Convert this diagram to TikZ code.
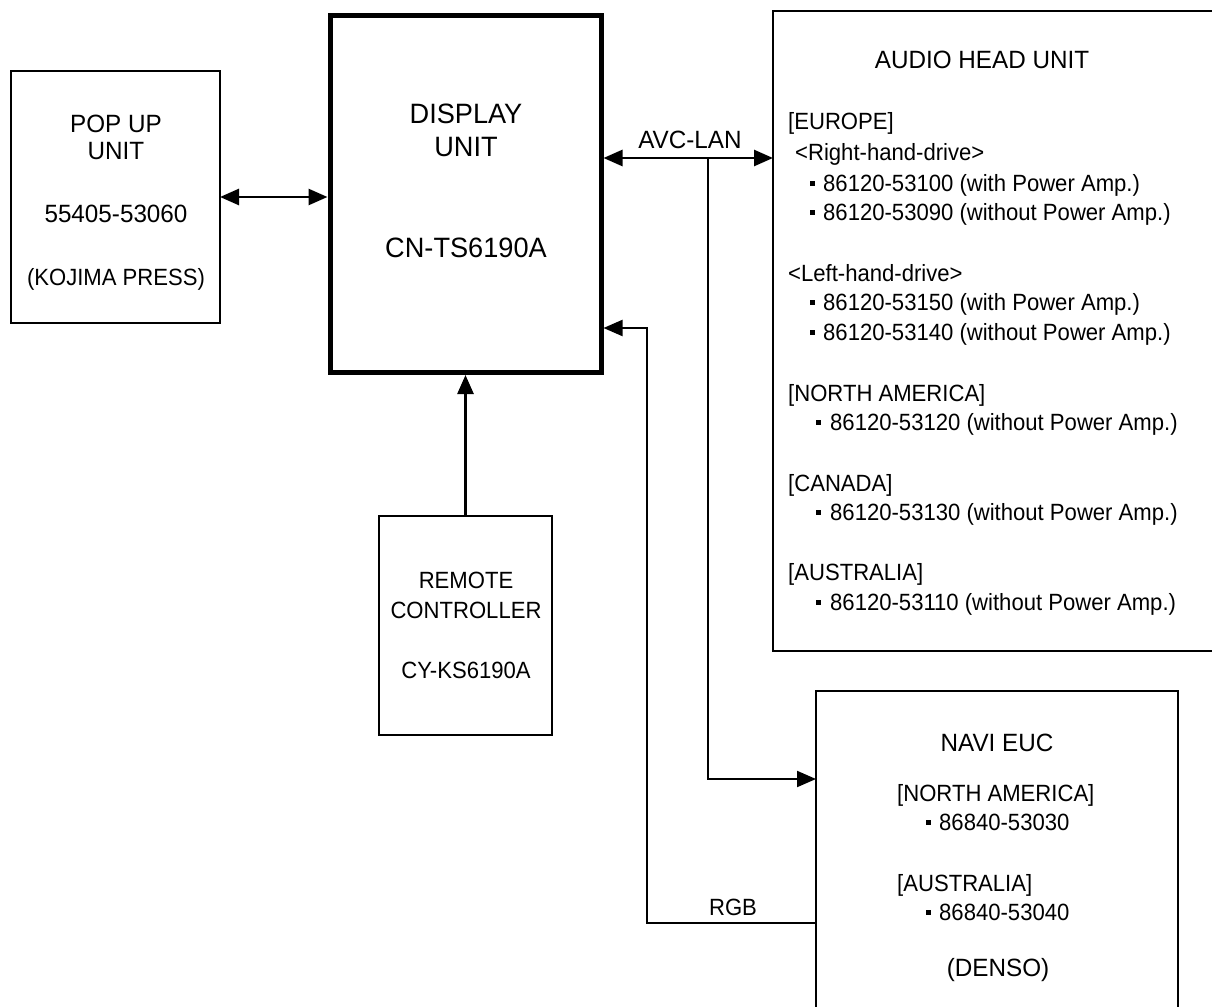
\documentclass[tikz,border=0pt]{standalone}
\usepackage{fontspec}
\setmainfont{Liberation Sans}
\newfontfamily\narrowf[FakeStretch=0.94]{Liberation Sans}
\newfontfamily\midf[FakeStretch=0.97]{Liberation Sans}
\usetikzlibrary{arrows.meta}
\newcommand{\blt}{\rule[5.5pt]{4.5pt}{4.5pt}}
\begin{document}
\begin{tikzpicture}[x=1pt,y=-1pt,
  box/.style={draw, line width=2.6pt, inner sep=0pt, outer sep=0pt},
  thickbox/.style={draw, line width=5pt, inner sep=0pt},
  conn/.style={line width=2.6pt},
  thin conn/.style={line width=2pt},
  tip/.style={-{Triangle[length=19pt,width=16pt]}},
  dtip/.style={{Triangle[length=19pt,width=16pt]}-{Triangle[length=19pt,width=16pt]}},
  txt/.style={inner sep=0pt, anchor=base},
  ltxt/.style={inner sep=0pt, anchor=base west},
  f22/.style={font=\narrowf\fontsize{23.5}{28}\selectfont},
  f24/.style={font=\midf\fontsize{25}{29}\selectfont},
  f26/.style={font=\midf\fontsize{28}{32}\selectfont}]
\useasboundingbox (0,0) rectangle (1212,1006);
\fill[white] (0,0) rectangle (1212,1006);

% boxes
\node[box, minimum width=209, minimum height=252] (pop) at (115.5,197) {};
\node[thickbox, minimum width=271, minimum height=357] (disp) at (465.5,194) {};
\node[box, minimum width=173, minimum height=219] (rem) at (465.5,625.5) {};
\node[box, line width=2.3pt, minimum width=467, minimum height=640] (aud) at (1006.5,331) {};
\node[box, line width=2.3pt, minimum width=362, minimum height=360] (navi) at (997,871) {};

% pop up text
\node[txt,f24] (p1) at (116,132) {POP UP};
\node[txt,f24] (p2) at (116,159) {UNIT};
\node[txt,f24] (p3) at (116,222) {55405-53060};
\node[txt,f22] (p4) at (116,285) {(KOJIMA PRESS)};

% display text
\node[txt,f26] (d1) at (466,124) {DISPLAY};
\node[txt,f26] (d2) at (466,156) {UNIT};
\node[txt,f26] (d3) at (466,257) {CN-TS6190A};

% remote text
\node[txt,f22] (r1) at (466,588) {REMOTE};
\node[txt,f22] (r2) at (466,618) {CONTROLLER};
\node[txt,f22] (r3) at (466,678) {CY-KS6190A};

% audio head unit text
\node[txt,f24] (a0) at (982,69) {AUDIO HEAD UNIT};
\node[ltxt,f22] (a1) at (788,130) {[EUROPE]};
\node[ltxt,f22] (a2) at (795,160) {<Right-hand-drive>};
\node[ltxt,f22] (a3) at (810,191) {\blt\hspace{8.5pt}86120-53100 (with Power Amp.)};
\node[ltxt,f22] (a4) at (810,220) {\blt\hspace{8.5pt}86120-53090 (without Power Amp.)};
\node[ltxt,f22] (a5) at (788,281) {<Left-hand-drive>};
\node[ltxt,f22] (a6) at (810,310) {\blt\hspace{8.5pt}86120-53150 (with Power Amp.)};
\node[ltxt,f22] (a7) at (810,340) {\blt\hspace{8.5pt}86120-53140 (without Power Amp.)};
\node[ltxt,f22] (a8) at (788,401) {[NORTH AMERICA]};
\node[ltxt,f22] (a9) at (816,430) {\blt\hspace{9.5pt}86120-53120 (without Power Amp.)};
\node[ltxt,f22] (a10) at (788,491) {[CANADA]};
\node[ltxt,f22] (a11) at (816,520) {\blt\hspace{9.5pt}86120-53130 (without Power Amp.)};
\node[ltxt,f22] (a12) at (788,580) {[AUSTRALIA]};
\node[ltxt,f22] (a13) at (816,610) {\blt\hspace{9.5pt}86120-53110 (without Power Amp.)};

% navi text
\node[txt,f24] (n0) at (997,751) {NAVI EUC};
\node[ltxt,f22] (n1) at (897,801) {[NORTH AMERICA]};
\node[ltxt,f22] (n2) at (926,830) {\blt\hspace{8.5pt}86840-53030};
\node[ltxt,f22] (n3) at (897,891) {[AUSTRALIA]};
\node[ltxt,f22] (n4) at (926,920) {\blt\hspace{8.5pt}86840-53040};
\node[txt,f24] (n5) at (998,976) {(DENSO)};

% connectors
\draw[conn,dtip] (pop.east) -- (pop.east -| disp.west);

\coordinate (avcj) at (708,158);
\draw[conn,dtip] (disp.east |- avcj) -- (aud.west |- avcj);
\node[txt,f24] (avclab) at (690,149) {AVC-LAN};

\coordinate (navin) at (708,779);
\draw[thin conn,tip] (avcj) -- (navin) -- (navin -| navi.west);

\coordinate (rgbb) at (647,923);
\coordinate (rgbt) at (647,328);
\draw[thin conn,tip] (rgbb -| navi.west) -- (rgbb) -- (rgbt) -- (rgbt -| disp.east);
\node[txt,f22] (rgblab) at (733,915) {RGB};

\draw[conn,tip] (rem.north) -- (rem.north |- disp.south);
\end{tikzpicture}
\end{document}
